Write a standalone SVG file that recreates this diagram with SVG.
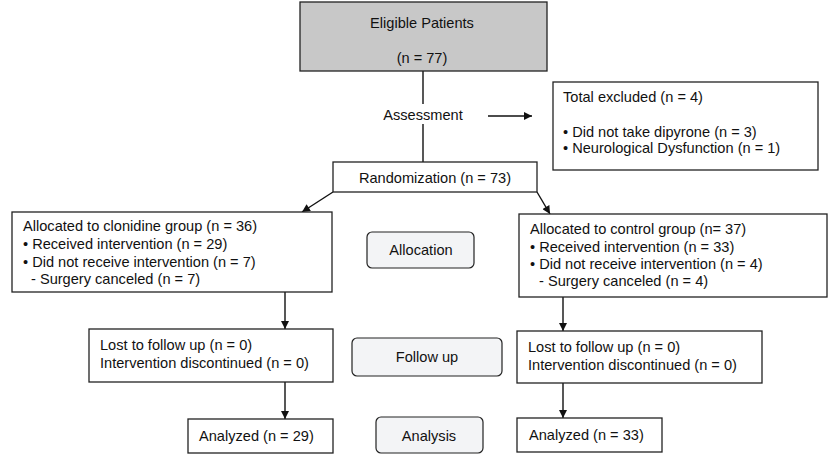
<svg xmlns="http://www.w3.org/2000/svg" width="829" height="454" viewBox="0 0 829 454">
<style>
text{font-family:"Liberation Sans",Arial,sans-serif;font-size:14.6px;fill:#111}
.box{fill:#fff;stroke:#222;stroke-width:1.3}
.gray{fill:#c8c8c8;stroke:#222;stroke-width:1.3}
.lab{fill:#f3f4f6;stroke:#222;stroke-width:1.2}
.c{text-anchor:middle}
.ln{stroke:#111;stroke-width:1.4;fill:none}
</style>
<defs>
<marker id="ah" viewBox="0 0 10 10" refX="10" refY="5" markerWidth="9" markerHeight="8" markerUnits="userSpaceOnUse" orient="auto">
<path d="M0,0 L10,5 L0,10 z" fill="#111"/>
</marker>
</defs>
<g id="connectors">
<line class="ln" x1="423" y1="71" x2="423" y2="104"/>
<line class="ln" x1="423" y1="124" x2="423" y2="162"/>
<line class="ln" x1="488" y1="116" x2="532" y2="116" marker-end="url(#ah)"/>
<line class="ln" x1="333" y1="192" x2="302" y2="212" marker-end="url(#ah)"/>
<line class="ln" x1="537" y1="192" x2="550" y2="214" marker-end="url(#ah)"/>
<line class="ln" x1="285" y1="292" x2="285" y2="329" marker-end="url(#ah)"/>
<line class="ln" x1="285" y1="382" x2="285" y2="419" marker-end="url(#ah)"/>
<line class="ln" x1="563" y1="297" x2="563" y2="331" marker-end="url(#ah)"/>
<line class="ln" x1="563" y1="383" x2="563" y2="418" marker-end="url(#ah)"/>
</g>
<g id="eligible">
<rect class="gray" x="300" y="2" width="247" height="69"/>
<text class="c" x="422" y="28">Eligible Patients</text>
<text class="c" x="422" y="63">(n = 77)</text>
</g>
<g id="assessment">
<text class="c" x="423" y="120">Assessment</text>
</g>
<g id="excluded">
<rect class="box" x="553" y="82" width="265" height="88"/>
<text x="563" y="102">Total excluded (n = 4)</text>
<text x="563" y="137">• Did not take dipyrone (n = 3)</text>
<text x="563" y="153">• Neurological Dysfunction (n = 1)</text>
</g>
<g id="randomization">
<rect class="box" x="333" y="162" width="204" height="30"/>
<text class="c" x="435" y="183">Randomization (n = 73)</text>
</g>
<g id="alloc-clonidine">
<rect class="box" x="12" y="212" width="320" height="80"/>
<text x="23" y="231">Allocated to clonidine group (n = 36)</text>
<text x="23" y="249">• Received intervention (n = 29)</text>
<text x="23" y="267">• Did not receive intervention (n = 7)</text>
<text x="31" y="284">- Surgery canceled (n = 7)</text>
</g>
<g id="alloc-control">
<rect class="box" x="519" y="214" width="308" height="83"/>
<text x="530" y="234">Allocated to control group (n= 37)</text>
<text x="530" y="252">• Received intervention (n = 33)</text>
<text x="530" y="269">• Did not receive intervention (n = 4)</text>
<text x="539" y="286">- Surgery canceled (n = 4)</text>
</g>
<g id="label-allocation">
<rect class="lab" x="367" y="232" width="107" height="36" rx="5"/>
<text class="c" x="421" y="255">Allocation</text>
</g>
<g id="follow-left">
<rect class="box" x="89" y="329" width="244" height="53"/>
<text x="100" y="350">Lost to follow up (n = 0)</text>
<text x="100" y="368">Intervention discontinued (n = 0)</text>
</g>
<g id="label-followup">
<rect class="lab" x="352" y="338" width="150" height="38" rx="5"/>
<text class="c" x="427" y="362">Follow up</text>
</g>
<g id="follow-right">
<rect class="box" x="517" y="331" width="245" height="52"/>
<text x="528" y="352">Lost to follow up (n = 0)</text>
<text x="528" y="370">Intervention discontinued (n = 0)</text>
</g>
<g id="analyzed-left">
<rect class="box" x="188" y="419" width="145" height="34"/>
<text x="199" y="441">Analyzed (n = 29)</text>
</g>
<g id="label-analysis">
<rect class="lab" x="376" y="417" width="107" height="36" rx="5"/>
<text class="c" x="429" y="441">Analysis</text>
</g>
<g id="analyzed-right">
<rect class="box" x="517" y="418" width="145" height="34"/>
<text x="529" y="440">Analyzed (n = 33)</text>
</g>
</svg>
